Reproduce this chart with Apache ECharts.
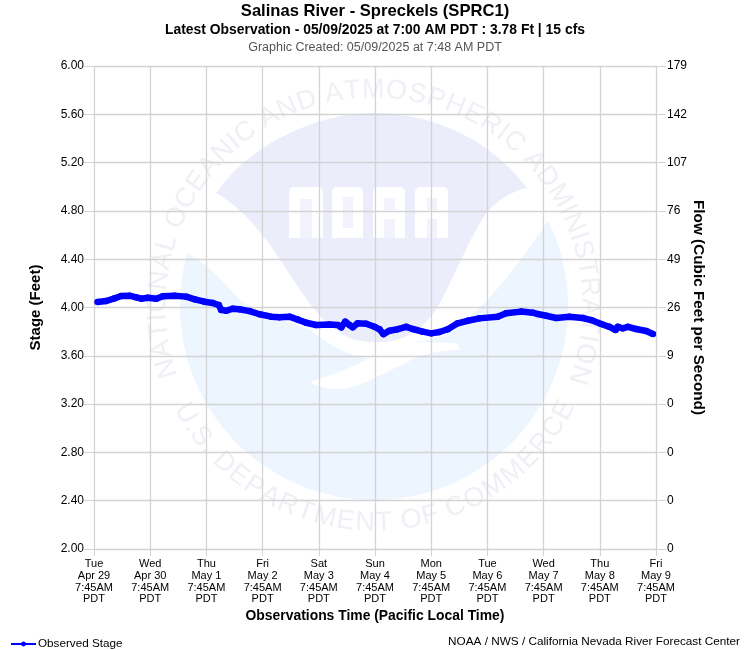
<!DOCTYPE html>
<html>
<head>
    <meta charset="UTF-8">
    <title>Salinas River - Spreckels (SPRC1)</title>
    <script src="https://cdn.jsdelivr.net/npm/echarts@6/dist/echarts.min.js"></script>
    <style>html,body{margin:0;padding:0;background:#fff}</style>
</head>
<body>
    <div id="main" style="width:750px;height:650px;"></div>
    <script type="text/javascript">
        var FONT = '"Liberation Sans", Arial, sans-serif';

        // hours since Tue Apr 29 7:45AM, stage in feet
        var stage = [
            [1.5, 4.045], [5.2, 4.054], [8.8, 4.076], [11.6, 4.095], [15.2, 4.098], [18, 4.084], [20.2, 4.073], [23, 4.081],
            [26.6, 4.073], [29.4, 4.093], [34.4, 4.098], [39.4, 4.09], [43, 4.068], [47.2, 4.048], [50.7, 4.037], [53.3, 4.02],
            [54.3, 3.98], [56.5, 3.973], [59.3, 3.99], [62.1, 3.985], [66.4, 3.97], [70.7, 3.944], [75.7, 3.924], [79.2, 3.919],
            [83.5, 3.924], [87, 3.9], [90.6, 3.874], [94.9, 3.855], [100.6, 3.86], [104.1, 3.855], [105.6, 3.836], [107.3, 3.883],
            [109.1, 3.855], [110.5, 3.836], [112.6, 3.869], [116.2, 3.866], [119.8, 3.84], [121.9, 3.82], [123.6, 3.78], [126.2, 3.808],
            [129.7, 3.82], [133.3, 3.84], [136.1, 3.822], [140.4, 3.8], [144, 3.786], [147.5, 3.797], [151.1, 3.82], [155.3, 3.869],
            [159.6, 3.89], [164.6, 3.91], [172.4, 3.924], [176, 3.952], [182.4, 3.966], [187.4, 3.957], [189.5, 3.946], [193.1, 3.932],
            [197.4, 3.913], [203, 3.924], [208.7, 3.913], [212.3, 3.896], [216.6, 3.863], [220.1, 3.84], [222.7, 3.814], [223.7, 3.84],
            [225.8, 3.828], [228, 3.84], [231.5, 3.822], [235.8, 3.805], [238.7, 3.78]
        ];
        var days = ['Tue\nApr 29', 'Wed\nApr 30', 'Thu\nMay 1', 'Fri\nMay 2', 'Sat\nMay 3', 'Sun\nMay 4',
            'Mon\nMay 5', 'Tue\nMay 6', 'Wed\nMay 7', 'Thu\nMay 8', 'Fri\nMay 9'];
        // rating table: flow printed next to each stage gridline
        var flow = { '2.00': 0, '2.40': 0, '2.80': 0, '3.20': 0, '3.60': 9, '4.00': 26, '4.40': 49, '4.80': 76, '5.20': 107, '5.60': 142, '6.00': 179 };

        // graphic has no path element, so flatten the outline [start, [c1, c2, end]...] to a polygon
        function outline(start, segs) {
            var pts = [start], p0 = start;
            segs.forEach(function (s) {
                if (s.length == 2) { pts.push(s); p0 = s; return; }
                for (var i = 1; i <= 12; i++) {
                    var t = i / 12, u = 1 - t;
                    pts.push([
                        u * u * u * p0[0] + 3 * u * u * t * s[0] + 3 * u * t * t * s[2] + t * t * t * s[4],
                        u * u * u * p0[1] + 3 * u * u * t * s[1] + 3 * u * t * t * s[3] + t * t * t * s[5]
                    ]);
                }
                p0 = [s[4], s[5]];
            });
            return pts;
        }

        // noaa logo watermark behind the grid
        var cx = 374, cy = 306, LAV = '#ebedfb', SKY = '#edf5fe', SEAL = '#eff0f6';
        var logo = [
            { type: 'circle', z: -10, shape: { cx: cx, cy: cy, r: 194 }, style: { fill: SKY } },
            {
                type: 'polygon', z: -9, style: { fill: '#fff' },
                shape: {
                    points: outline([150, 90], [[600, 90], [600, 215], [547, 222],
                        [525, 255, 490, 305, 450, 333], [435, 340, 425, 341, 413, 342], [457, 343], [461, 350],
                        [445, 350, 430, 352, 417, 357], [395, 368, 380, 376, 363, 383], [350, 390, 325, 392, 310, 382],
                        [330, 376, 350, 368, 370, 358], [350, 358, 330, 345, 310, 330], [285, 320, 260, 315, 240, 300],
                        [225, 285, 210, 265, 187, 253], [150, 240]])
                }
            },
            {
                type: 'polygon', z: -8, style: { fill: LAV },
                shape: {
                    points: outline([216, 193], [[245, 150, 310, 113, 374, 113], [440, 113, 495, 145, 527, 188],
                        [510, 192, 497, 200, 485, 215], [470, 237, 455, 275, 440, 303], [430, 320, 420, 330, 403, 338],
                        [395, 341, 385, 342, 377, 342], [365, 342, 355, 340, 350, 338], [340, 333, 333, 328, 327, 323],
                        [320, 316, 313, 308, 307, 300], [295, 283, 285, 266, 270, 245], [255, 225, 240, 207, 216, 193]])
                }
            }
        ];
        // the four NOAA letters: white block, lavender slots
        [[289, 323, [[300, 312, 199, 238]]], [332, 363, [[343, 353, 197, 228]]],
            [373, 405, [[384, 395, 198, 210], [384, 395, 219, 238]]], [415, 448, [[427, 437, 198, 210], [427, 437, 219, 238]]]].forEach(function (l) {
            logo.push({ type: 'rect', z: -7, shape: { x: l[0], y: 187, width: l[1] - l[0], height: 51, r: [5, 5, 0, 0] }, style: { fill: '#fff' } });
            l[2].forEach(function (s) {
                logo.push({ type: 'rect', z: -6, shape: { x: s[0], y: s[2], width: s[1] - s[0], height: s[3] - s[2] }, style: { fill: '#f1f2fc' } });
            });
        });

        // seal text set letter by letter round the circle
        function arcText(text, r, span, top) {
            var font = '27px ' + FONT;
            var ctx = document.createElement('canvas').getContext('2d');
            ctx.font = font;
            var total = ctx.measureText(text).width;
            var k = span / total, pos = 0;
            for (var i = 0; i < text.length; i++) {
                var w = ctx.measureText(text[i]).width;
                var a = (pos + w / 2) * k - span / 2;
                pos += w;
                logo.push({
                    type: 'text', z: -5,
                    x: cx + r * Math.sin(a),
                    y: top ? cy - r * Math.cos(a) : cy + r * Math.cos(a),
                    rotation: top ? -a : a,
                    style: { text: text[i], font: font, fill: SEAL, align: 'center', verticalAlign: 'middle' }
                });
            }
        }
        arcText('NATIONAL OCEANIC AND ATMOSPHERIC ADMINISTRATION', 216, 219 * Math.PI / 180, true);
        arcText('U.S. DEPARTMENT OF COMMERCE', 217, 126 * Math.PI / 180, false);

        var myChart = echarts.init(document.getElementById('main'));
        myChart.setOption({
            animation: false,
            backgroundColor: '#fff',
            textStyle: { fontFamily: FONT },
            title: [
                { text: 'Salinas River - Spreckels (SPRC1)', left: 375, top: 3, padding: 0, textAlign: 'center', textStyle: { fontFamily: FONT, fontSize: 16.6, fontWeight: 'bold', color: '#000' } },
                { text: 'Latest Observation - 05/09/2025 at 7:00 AM PDT : 3.78 Ft | 15 cfs', left: 375, top: 23, padding: 0, textAlign: 'center', textStyle: { fontFamily: FONT, fontSize: 13.9, fontWeight: 'bold', color: '#000' } },
                { text: 'Graphic Created: 05/09/2025 at 7:48 AM PDT', left: 375, top: 41, padding: 0, textAlign: 'center', textStyle: { fontFamily: FONT, fontSize: 12.5, fontWeight: 'normal', color: '#555' } },
                { text: 'NOAA / NWS / California Nevada River Forecast Center', right: 10, top: 636, padding: 0, textStyle: { fontFamily: FONT, fontSize: 11.75, fontWeight: 'normal', color: '#000' } }
            ],
            legend: {
                left: 10, top: 638, padding: 0, itemWidth: 25, itemHeight: 6, itemGap: 5,
                textStyle: { fontFamily: FONT, fontSize: 11.7, color: '#000', padding: [0, 0, 0, -3] },
                lineStyle: { width: 2 }
            },
            grid: { left: 94, top: 66, width: 562, height: 483 },
            xAxis: {
                type: 'value', min: 0, max: 240, interval: 24,
                name: 'Observations Time (Pacific Local Time)',
                nameLocation: 'middle', nameGap: 60, nameMoveOverlap: false,
                nameTextStyle: { fontFamily: FONT, fontSize: 13.9, fontWeight: 'bold', color: '#000' },
                axisLine: { show: false },
                axisTick: { length: 7, lineStyle: { color: '#d3d3d3' } },
                splitLine: { show: true, lineStyle: { color: '#d3d3d3', width: 1.3 } },
                axisLabel: {
                    margin: 9, fontSize: 11, lineHeight: 11.8, color: '#000', hideOverlap: false, showMinLabel: true, showMaxLabel: true,
                    formatter: function (v) { return days[v / 24] + '\n7:45AM\nPDT'; }
                }
            },
            yAxis: [{
                type: 'value', min: 2, max: 6, interval: 0.4,
                name: 'Stage (Feet)', nameLocation: 'middle', nameGap: 51, nameMoveOverlap: false,
                nameTextStyle: { fontFamily: FONT, fontSize: 15, fontWeight: 'bold', color: '#000' },
                axisLine: { show: false },
                axisTick: { length: 10, lineStyle: { color: '#d3d3d3' } },
                splitLine: { show: true, lineStyle: { color: '#d3d3d3', width: 1.3 } },
                axisLabel: { margin: 10, fontSize: 12, color: '#000', formatter: function (v) { return v.toFixed(2); } }
            }, {
                type: 'value', min: 2, max: 6, interval: 0.4, position: 'right',
                name: 'Flow (Cubic Feet per Second)', nameLocation: 'middle', nameGap: 35, nameRotate: -90, nameMoveOverlap: false,
                nameTextStyle: { fontFamily: FONT, fontSize: 15.3, fontWeight: 'bold', color: '#000' },
                axisLine: { show: false },
                axisTick: { length: 10, lineStyle: { color: '#d3d3d3' } },
                splitLine: { show: false },
                axisLabel: { margin: 11, fontSize: 12, color: '#000', formatter: function (v) { return flow[v.toFixed(2)]; } }
            }],
            graphic: logo,
            series: [{
                name: 'Observed Stage', type: 'line', data: stage,
                symbol: 'circle', symbolSize: 6.5, showSymbol: true,
                itemStyle: { color: '#0000ff' },
                lineStyle: { color: '#0000ff', width: 6.5, cap: 'butt', join: 'round' }
            }]
        });
    </script>
</body>
</html>
